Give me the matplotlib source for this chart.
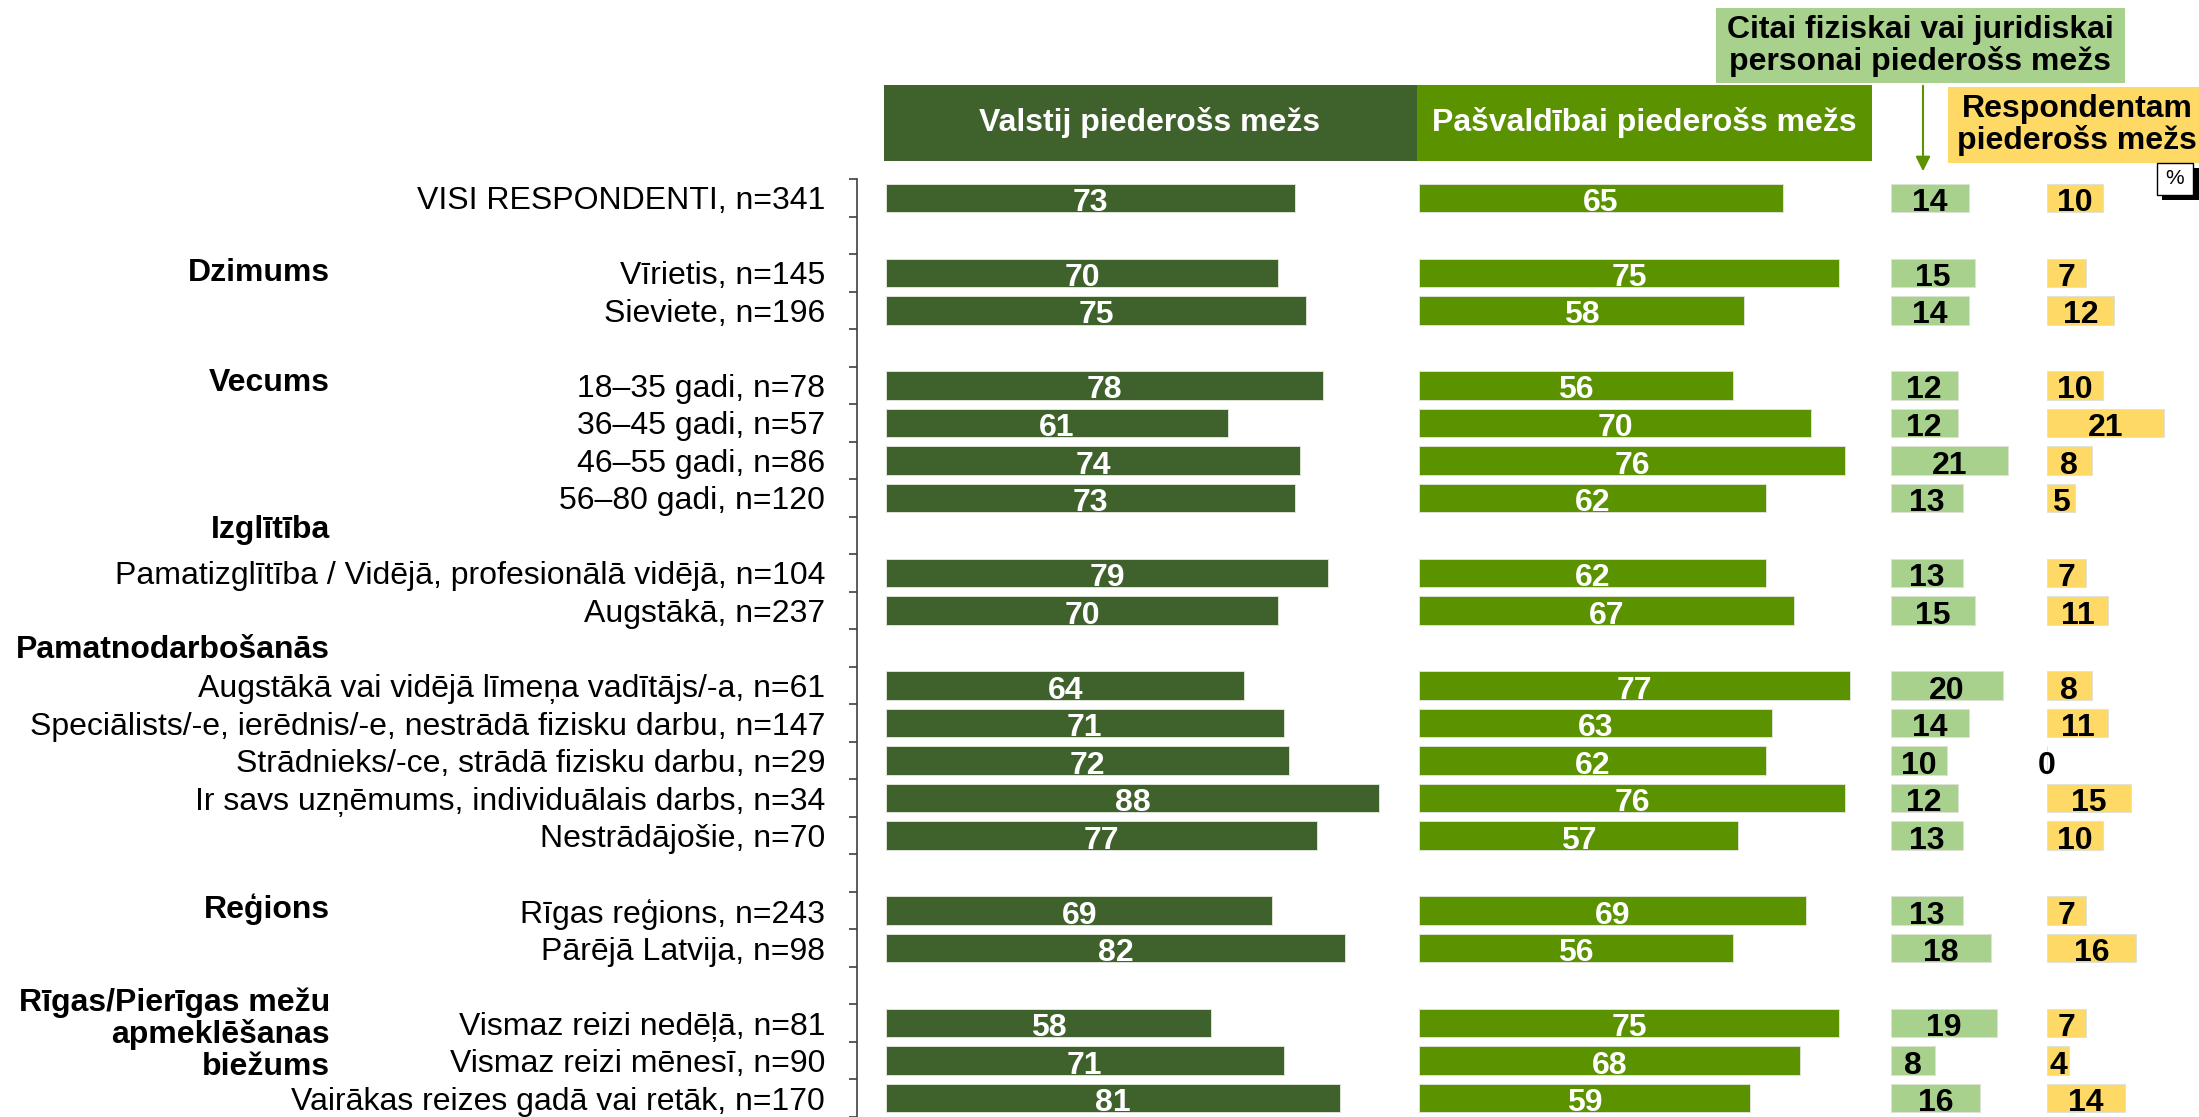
import matplotlib
matplotlib.use('Agg')
import matplotlib.pyplot as plt
from matplotlib.patches import Rectangle, FancyArrowPatch
from matplotlib.transforms import blended_transform_factory

plt.rcParams['font.family'] = ['Liberation Sans', 'DejaVu Sans']

# rows of the chart, '' is an empty spacer row
categories = [
    'VISI RESPONDENTI, n=341', '',
    'Vīrietis, n=145', 'Sieviete, n=196', '',
    '18–35 gadi, n=78', '36–45 gadi, n=57', '46–55 gadi, n=86', '56–80 gadi, n=120', '',
    'Pamatizglītība / Vidējā, profesionālā vidējā, n=104', 'Augstākā, n=237', '',
    'Augstākā vai vidējā līmeņa vadītājs/-a, n=61',
    'Speciālists/-e, ierēdnis/-e, nestrādā fizisku darbu, n=147',
    'Strādnieks/-ce, strādā fizisku darbu, n=29',
    'Ir savs uzņēmums, individuālais darbs, n=34',
    'Nestrādājošie, n=70', '',
    'Rīgas reģions, n=243', 'Pārējā Latvija, n=98', '',
    'Vismaz reizi nedēļā, n=81', 'Vismaz reizi mēnesī, n=90',
    'Vairākas reizes gadā vai retāk, n=170',
]

state_forest = [73, None, 70, 75, None, 78, 61, 74, 73, None, 79, 70, None,
                64, 71, 72, 88, 77, None, 69, 82, None, 58, 71, 81]
municipal_forest = [65, None, 75, 58, None, 56, 70, 76, 62, None, 62, 67, None,
                    77, 63, 62, 76, 57, None, 69, 56, None, 75, 68, 59]
other_person_forest = [14, None, 15, 14, None, 12, 12, 21, 13, None, 13, 15, None,
                       20, 14, 10, 12, 13, None, 13, 18, None, 19, 8, 16]
own_forest = [10, None, 7, 12, None, 10, 21, 8, 5, None, 7, 11, None,
              8, 11, 0, 15, 10, None, 7, 16, None, 7, 4, 14]

series_names = ['Valstij piederošs mežs', 'Pašvaldībai piederošs mežs',
                'Citai fiziskai vai juridiskai\npersonai piederošs mežs',
                'Respondentam\npiederošs mežs']

groups = ['Dzimums', 'Vecums', 'Izglītība', 'Pamatnodarbošanās', 'Reģions',
          'Rīgas/Pierīgas mežu\napmeklēšanas\nbiežums']
group_rows = [2, 4.95, 8.85, 12.05, 18.95, 22.3]

DARK = '#3f612c'
GREEN = '#5b9200'
LIGHT = '#a9d18e'
YELLOW = '#ffd966'
FS = 23

W, H = 2199, 1117
fig = plt.figure(figsize=(W / 100, H / 100), dpi=100)

# px per percent unit is 5.6, panels start at these offsets
PX = 5.6
x_zero = 886
ax = fig.add_axes([857 / W, 0, (W - 857) / W, (H - 179) / H])
ax.set_xlim(-(x_zero - 857) / PX, (W - x_zero) / PX)
ax.set_ylim(24.38, -0.5)

panels = [
    (state_forest, 0, DARK, 'white'),
    (municipal_forest, 95.2, GREEN, 'white'),
    (other_person_forest, 179.4, LIGHT, 'black'),
    (own_forest, 207.3, YELLOW, 'black'),
]
for values, offset, color, tcolor in panels:
    ys = [i for i, v in enumerate(values) if v is not None]
    vs = [values[i] for i in ys]
    ax.barh(ys, vs, left=offset, height=0.76, color=color,
            edgecolor='#dde3d6', linewidth=0.7)
    for y, v in zip(ys, vs):
        ax.text(offset + v / 2, y + 0.35, str(v), ha='center', va='baseline',
                color=tcolor, fontsize=FS, fontweight='bold')

for s in ['top', 'right', 'bottom']:
    ax.spines[s].set_visible(False)
ax.spines['left'].set_color('#404040')
ax.spines['left'].set_linewidth(1.2)
ax.set_xticks([])
ax.set_yticks(range(len(categories)))
ax.set_yticklabels(categories, fontsize=FS)
ax.tick_params(axis='y', which='major', length=0, pad=23)
ax.set_yticks([i - 0.5 for i in range(len(categories) + 1)], minor=True)
ax.tick_params(axis='y', which='minor', length=6, width=1.2, color='#404040')

tr = blended_transform_factory(fig.transFigure, ax.transData)
for g, y in zip(groups, group_rows):
    ax.text(330 / W, y, g, transform=tr, ha='right', va='center',
            fontsize=FS, fontweight='bold', linespacing=1.07, clip_on=False)


def fig_rect(x0, y0, x1, y1, **kw):
    r = Rectangle((x0 / W, 1 - y1 / H), (x1 - x0) / W, (y1 - y0) / H,
                  transform=fig.transFigure, **kw)
    fig.add_artist(r)


def fig_text(x, y, s, **kw):
    fig.text(x / W, 1 - y / H, s, ha='center', va='center', **kw)


# column headers
fig_rect(884, 85, 1417, 161, facecolor=DARK, edgecolor='none')
fig_text(1150, 123, series_names[0], color='white', fontsize=FS, fontweight='bold')
fig_rect(1417, 85, 1872, 161, facecolor=GREEN, edgecolor='none')
fig_text(1644, 123, series_names[1], color='white', fontsize=FS, fontweight='bold')

fig_rect(1716, 8, 2125, 83, facecolor=LIGHT, edgecolor='none')
fig_text(1920, 46, series_names[2], color='black', fontsize=FS, fontweight='bold',
         linespacing=1.02)
arrow = FancyArrowPatch((1923 / W, 1 - 83 / H), (1923 / W, 1 - 174 / H),
                        transform=fig.transFigure, arrowstyle='-|>',
                        mutation_scale=22, color=GREEN, linewidth=1.5)
fig.add_artist(arrow)

fig_rect(1948, 87, 2210, 163, facecolor=YELLOW, edgecolor='none')
fig_text(2077, 125, series_names[3], color='black', fontsize=FS, fontweight='bold',
         linespacing=1.02)

# percent sign box with shadow
fig_rect(2162, 168, 2199, 200, facecolor='black', edgecolor='none')
fig_rect(2157, 163, 2193, 195, facecolor='white', edgecolor='black', linewidth=1)
fig_text(2175, 179, '%', color='black', fontsize=15)

fig.savefig('out.png', dpi=100)
